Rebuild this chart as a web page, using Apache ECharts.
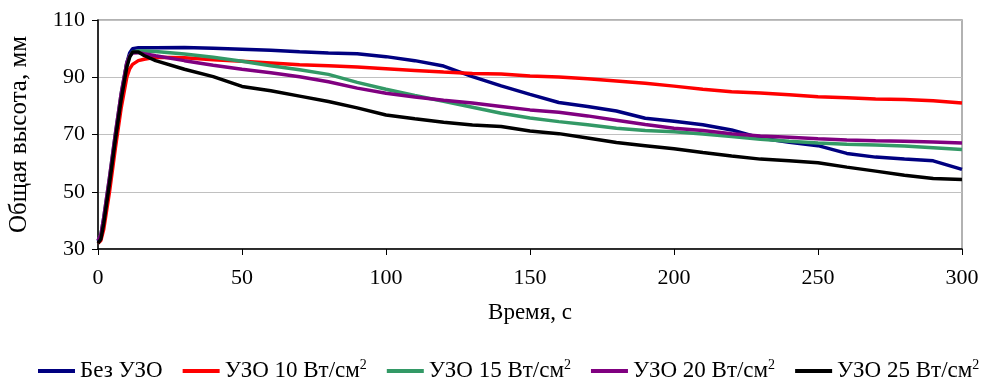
<!DOCTYPE html>
<html>
<head>
<meta charset="utf-8">
<script src="https://cdn.jsdelivr.net/npm/echarts@6/dist/echarts.min.js"></script>
<style>
  html, body { margin: 0; padding: 0; background: #fff; }
  #container { width: 985px; height: 380px; }
</style>
</head>
<body>
<div id="container"></div>
<script>
// time, s
var time = [0, 1, 2, 4, 6, 8, 10, 11, 12, 14, 16,
    20, 30, 40, 50, 60, 70, 80, 90, 100, 110, 120, 130, 140, 150, 160,
    170, 180, 190, 200, 210, 220, 230, 240, 250, 260, 270, 280, 290, 300];

// total height, mm
var bezUzo = [32.5, 34, 40, 54, 69, 83, 95, 98.5, 100, 100.3, 100.3,
    100.3, 100.4, 100.1, 99.8, 99.4, 98.9, 98.5, 98.2, 97.2, 95.8, 93.9, 90.2, 87, 84, 81.2,
    79.8, 78.2, 75.7, 74.6, 73.4, 71.6, 68.8, 67.3, 66.1, 63.4, 62.1, 61.4, 60.8, 57.8];
var uzo10 = [32, 33, 37, 50, 65, 79, 90, 93, 94.5, 95.8, 96.3,
    97, 96.8, 96.1, 95.6, 95, 94.4, 94, 93.6, 93, 92.4, 91.8, 91.3, 91.1, 90.4, 90.1,
    89.5, 88.7, 87.9, 86.9, 85.8, 84.9, 84.5, 83.9, 83.2, 82.8, 82.4, 82.2, 81.8, 81];
var uzo15 = [33, 35, 41, 55, 70, 84, 95, 97.5, 98.8, 99.2, 99.2,
    99, 98.1, 97, 95.6, 94, 92.6, 91, 88.2, 85.8, 83.6, 81.6, 79.5, 77.4, 75.8, 74.5,
    73.4, 72.2, 71.4, 71, 70.2, 69.3, 68.3, 67.6, 67, 66.6, 66.3, 66, 65.4, 64.8];
var uzo20 = [33, 35, 41, 55, 70, 84, 95, 97.5, 98.5, 98.6, 98.2,
    97.5, 95.8, 94.2, 92.8, 91.6, 90.2, 88.4, 86.2, 84.4, 83.1, 82, 81, 79.8, 78.6, 77.8,
    76.5, 75, 73.5, 72.2, 71.4, 70.3, 69.5, 69, 68.5, 68.1, 67.8, 67.6, 67.4, 67];
var uzo25 = [32, 33.5, 39, 53, 68, 82, 93.5, 97, 98.8, 98.8, 97.6,
    95.8, 92.8, 90.2, 86.8, 85.3, 83.4, 81.5, 79.3, 76.8, 75.5, 74.3, 73.3, 72.8, 71.2, 70.3,
    68.8, 67.2, 66.1, 65, 63.7, 62.5, 61.4, 60.8, 60.1, 58.6, 57.2, 55.8, 54.6, 54.3];

var names = ['Без УЗО', 'УЗО 10 Вт/см2', 'УЗО 15 Вт/см2', 'УЗО 20 Вт/см2', 'УЗО 25 Вт/см2'];
var colors = ['#000080', '#ff0000', '#339966', '#800080', '#000000'];
var values = [bezUzo, uzo10, uzo15, uzo20, uzo25];

var font = 'Liberation Serif';
var dom = document.getElementById('container');
var myChart = echarts.init(dom);

var series = [];
for (var i = 0; i < names.length; i++) {
    var pts = [];
    for (var j = 0; j < time.length; j++) {
        pts.push([time[j], values[i][j]]);
    }
    series.push({
        name: names[i],
        type: 'line',
        data: pts,
        symbol: 'none',
        color: colors[i],
        lineStyle: { width: 3.5, color: colors[i] },
        animation: false
    });
}

var option = {
    animation: false,
    textStyle: { fontFamily: font },
    grid: {
        left: 98, right: 23, top: 20, bottom: 131,
        outerBoundsMode: 'none',
        show: true, borderColor: '#999', borderWidth: 1.5
    },
    legend: {
        top: 353,
        left: 33,
        icon: 'rect',
        itemWidth: 37,
        itemHeight: 4,
        itemGap: 20,
        data: names,
        formatter: function (name) {
            if (name.slice(-1) === '2') {
                return '{a|' + name.slice(0, -1) + '}{s|2}';
            }
            return '{a|' + name + '}';
        },
        textStyle: {
            fontFamily: font,
            color: '#000',
            rich: {
                a: { fontFamily: font, fontSize: 23, color: '#000' },
                s: { fontFamily: font, fontSize: 14, color: '#000', padding: [0, 0, 12, 0] }
            }
        }
    },
    xAxis: {
        type: 'value',
        min: 0, max: 300, interval: 50,
        name: 'Время, с',
        nameLocation: 'middle',
        nameGap: 52,
        nameTextStyle: { fontFamily: font, fontSize: 23, color: '#000' },
        axisLine: { lineStyle: { color: '#000', width: 1.5 } },
        axisTick: { show: true, length: 6, lineStyle: { color: '#000' } },
        axisLabel: { fontFamily: font, fontSize: 22, color: '#000', margin: 18 },
        splitLine: { show: false }
    },
    yAxis: {
        type: 'value',
        min: 30, max: 110, interval: 20,
        name: 'Общая высота, мм',
        nameLocation: 'middle',
        nameGap: 66,
        nameTextStyle: { fontFamily: font, fontSize: 25, color: '#000' },
        axisLine: { show: true, lineStyle: { color: '#000', width: 1.5 } },
        axisTick: { show: true, length: 6, lineStyle: { color: '#000' } },
        axisLabel: { fontFamily: font, fontSize: 22, color: '#000', margin: 13 },
        splitLine: { show: true, lineStyle: { color: '#c0c0c0', width: 1.2 } }
    },
    series: series
};

if (option && typeof option === 'object') {
    myChart.setOption(option);
}
</script>
</body>
</html>
